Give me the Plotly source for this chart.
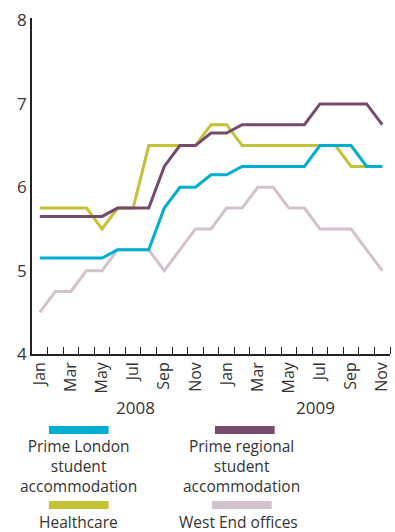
import plotly.graph_objects as go

# Monthly series, Jan 2008 - Nov 2009 (yields, %)
months = ["Jan", "Feb", "Mar", "Apr", "May", "Jun", "Jul", "Aug", "Sep", "Oct", "Nov", "Dec",
          "Jan", "Feb", "Mar", "Apr", "May", "Jun", "Jul", "Aug", "Sep", "Oct", "Nov"]
years = ["2008", "2009"]

prime_london = [5.15, 5.15, 5.15, 5.15, 5.15, 5.25, 5.25, 5.25, 5.75, 6.0, 6.0, 6.15,
                6.15, 6.25, 6.25, 6.25, 6.25, 6.25, 6.5, 6.5, 6.5, 6.25, 6.25]
prime_regional = [5.65, 5.65, 5.65, 5.65, 5.65, 5.75, 5.75, 5.75, 6.25, 6.5, 6.5, 6.65,
                  6.65, 6.75, 6.75, 6.75, 6.75, 6.75, 7.0, 7.0, 7.0, 7.0, 6.75]
healthcare = [5.75, 5.75, 5.75, 5.75, 5.5, 5.75, 5.75, 6.5, 6.5, 6.5, 6.5, 6.75,
              6.75, 6.5, 6.5, 6.5, 6.5, 6.5, 6.5, 6.5, 6.25, 6.25, 6.25]
west_end = [4.5, 4.75, 4.75, 5.0, 5.0, 5.25, 5.25, 5.25, 5.0, 5.25, 5.5, 5.5,
            5.75, 5.75, 6.0, 6.0, 5.75, 5.75, 5.5, 5.5, 5.5, 5.25, 5.0]

names = ["Prime London<br>student<br>accommodation",
         "Prime regional<br>student<br>accommodation",
         "Healthcare",
         "West End offices"]
colors = ["#00AECF", "#744B6B", "#C4C236", "#D1C2CD"]

FONT = "Open Sans"
TEXT = "#333333"

x = list(range(len(months)))

fig = go.Figure()
# drawing order: lighter series underneath
for vals, col in [(west_end, colors[3]), (healthcare, colors[2]),
                  (prime_london, colors[0]), (prime_regional, colors[1])]:
    fig.add_trace(go.Scatter(x=x, y=vals, mode="lines",
                             line=dict(color=col, width=3),
                             showlegend=False, hoverinfo="skip"))

# plot area in pixels
L, R, T, B = 32, 392, 18, 354
W, H = 395, 532

def px_x(p):
    return (p - L) / (R - L)

def px_y(p):
    return (B - p) / (B - T)

shapes = []
annotations = []

# year labels under the month ticks
for yr, xc in zip(years, [6.17, 17.7]):
    annotations.append(dict(x=xc, xref="x", y=px_y(407.5), yref="paper", text=yr,
                            showarrow=False, xanchor="center", yanchor="middle",
                            font=dict(family=FONT, size=17, color=TEXT)))

# legend: colour bar above a centred label, two columns
legend_items = [
    (names[0], colors[0], 49, 109, 430, 79, 465.5),
    (names[1], colors[1], 216, 276, 430, 243, 465.5),
    (names[2], colors[2], 49, 109, 505, 79, 521.5),
    (names[3], colors[3], 213, 273, 505, 240, 521.5),
]
for label, col, x0, x1, yc, tx, ty in legend_items:
    shapes.append(dict(type="rect", xref="paper", yref="paper",
                       x0=px_x(x0), x1=px_x(x1), y0=px_y(yc + 4), y1=px_y(yc - 4),
                       fillcolor=col, line=dict(width=0)))
    annotations.append(dict(x=px_x(tx), xref="paper", y=px_y(ty), yref="paper",
                            text=label, showarrow=False, align="center",
                            xanchor="center", yanchor="middle",
                            font=dict(family=FONT, size=15.5, color=TEXT)))

fig.update_layout(
    width=W, height=H,
    margin=dict(l=L, r=W - R, t=T, b=H - B),
    paper_bgcolor="white", plot_bgcolor="white",
    font=dict(family=FONT, color=TEXT),
    shapes=shapes, annotations=annotations,
    xaxis=dict(range=[-0.5, len(months) - 0.5], showgrid=False, zeroline=False,
               showline=True, linecolor="#222222", linewidth=1.5,
               tickmode="array", tickvals=x[::2], ticktext=months[::2],
               ticks="", tickangle=-90, tickfont=dict(size=16, color=TEXT),
               minor=dict(tickmode="array", tickvals=[i + 0.5 for i in x],
                          ticks="inside", ticklen=7, tickcolor="#222222", tickwidth=1)),
    yaxis=dict(range=[4, 8.03], showgrid=False, zeroline=False,
               showline=True, linecolor="#222222", linewidth=1.5,
               tickmode="array", tickvals=[4, 5, 6, 7, 8], ticks="",
               tickfont=dict(size=17, color=TEXT)),
)

fig.write_html("out.html")
